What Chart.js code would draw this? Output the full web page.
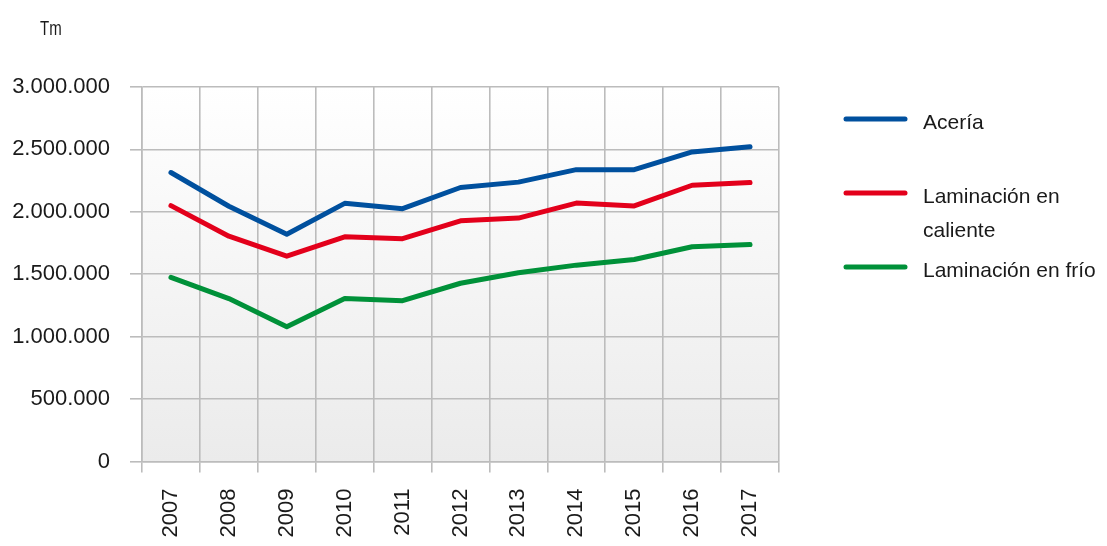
<!DOCTYPE html>
<html>
<head>
<meta charset="utf-8">
<script src="https://cdn.jsdelivr.net/npm/chart.js@4"></script>
<style>
html,body{margin:0;padding:0;background:#fff;}
#wrap{position:relative;width:1107px;height:546px;}
</style>
</head>
<body>
<div id="wrap"><canvas id="c" width="1107" height="546"></canvas></div>
<script>
const years = ['2007','2008','2009','2010','2011','2012','2013','2014','2015','2016','2017'];
const aceria = [2315000, 2045000, 1820000, 2068000, 2025000, 2195000, 2238000, 2338000, 2338000, 2480000, 2522000];
const laminacionCaliente = [2050000, 1805000, 1645000, 1800000, 1785000, 1928000, 1950000, 2070000, 2047000, 2213000, 2235000];
const laminacionFrio = [1475000, 1305000, 1080000, 1305000, 1288000, 1428000, 1512000, 1573000, 1618000, 1720000, 1738000];
const seriesLabels = ['Acería', ['Laminación en', 'caliente'], 'Laminación en frío'];
const unitLabel = 'Tm';
const yTicks = [0, 500000, 1000000, 1500000, 2000000, 2500000, 3000000];

const colors = ['#00509E', '#E3001B', '#009139'];
const FONT = "'Liberation Sans', Arial, Helvetica, sans-serif";

function fmt(v){ return String(v).replace(/\B(?=(\d{3})+(?!\d))/g, '.'); }

const bgPlugin = {
  id: 'bg',
  beforeDraw(chart){
    const {ctx, chartArea:a} = chart;
    const g = ctx.createLinearGradient(0, a.top, 0, a.bottom);
    g.addColorStop(0, '#ffffff');
    g.addColorStop(1, '#ebebeb');
    ctx.save();
    ctx.fillStyle = g;
    ctx.fillRect(a.left, a.top, a.right - a.left, a.bottom - a.top);
    ctx.restore();
  }
};

const extrasPlugin = {
  id: 'extras',
  afterDraw(chart){
    const ctx = chart.ctx;
    ctx.save();
    // unit label (condensed)
    ctx.fillStyle = '#1a1a1a';
    ctx.font = "20px " + FONT;
    ctx.textBaseline = 'middle';
    ctx.textAlign = 'left';
    ctx.save();
    ctx.translate(40, 29);
    ctx.scale(0.75, 1);
    ctx.fillText(unitLabel, 0, 0);
    ctx.restore();
    // legend
    const ys = [[123], [197, 231], [271]];
    chart.data.datasets.forEach((ds, i) => {
      const lines = Array.isArray(ds.label) ? ds.label : [ds.label];
      const y0 = ys[i][0] - 4;
      ctx.strokeStyle = ds.borderColor;
      ctx.lineWidth = 5;
      ctx.lineCap = 'round';
      ctx.beginPath();
      ctx.moveTo(846, y0);
      ctx.lineTo(905, y0);
      ctx.stroke();
      ctx.fillStyle = '#1a1a1a';
      ctx.font = '21px ' + FONT;
      ctx.textBaseline = 'middle';
      lines.forEach((t, j) => ctx.fillText(t, 923, ys[i][j]));
    });
    ctx.restore();
  }
};

new Chart(document.getElementById('c'), {
  type: 'line',
  data: {
    labels: years,
    datasets: [
      {label: seriesLabels[0], data: aceria},
      {label: seriesLabels[1], data: laminacionCaliente},
      {label: seriesLabels[2], data: laminacionFrio}
    ].map((d, i) => Object.assign(d, {
      borderColor: colors[i], backgroundColor: colors[i],
      borderWidth: 5, pointRadius: 0, pointHoverRadius: 0,
      tension: 0, fill: false, borderCapStyle: 'round', borderJoinStyle: 'round'
    }))
  },
  options: {
    responsive: false,
    animation: false,
    devicePixelRatio: 1,
    layout: {padding: {top: 87, right: 328, left: 0, bottom: 0}},
    plugins: {legend: {display: false}, tooltip: {enabled: false}},
    scales: {
      x: {
        offset: true,
        grid: {offset: true, color: '#bcbcbc', lineWidth: 1.6, tickLength: 11, drawOnChartArea: true},
        border: {color: '#bcbcbc', width: 1.6},
        ticks: {
          minRotation: 90, maxRotation: 90, padding: 16,
          color: '#1a1a1a', font: {family: FONT, size: 22}
        },
        afterFit(s){ s.height = 84.5; }
      },
      y: {
        min: 0, max: 3000000,
        afterBuildTicks(s){ s.ticks = yTicks.map(v => ({value: v})); },
        grid: {color: '#bcbcbc', lineWidth: 1.6, tickLength: 12},
        border: {color: '#bcbcbc', width: 1.6},
        ticks: {
          padding: 20, color: '#1a1a1a', font: {family: FONT, size: 22},
          callback: v => fmt(v)
        },
        afterFit(s){ s.width = 142; }
      }
    }
  },
  plugins: [bgPlugin, extrasPlugin]
});
</script>
</body>
</html>
